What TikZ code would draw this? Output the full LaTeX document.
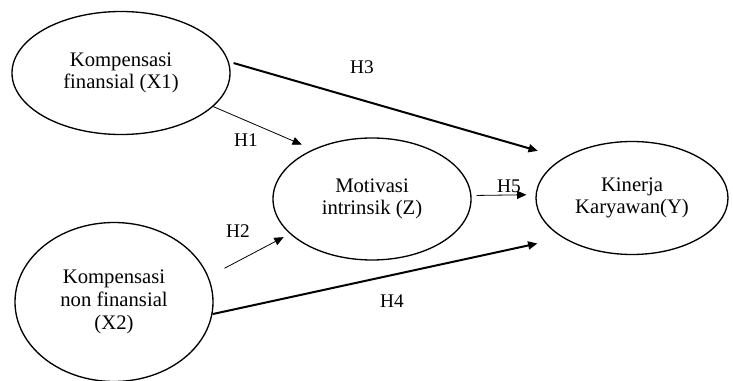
\documentclass[tikz,border=0pt]{standalone}
\usepackage{fontspec}
\setmainfont{Liberation Serif}
\usetikzlibrary{shapes.geometric,arrows.meta}
\begin{document}
\begin{tikzpicture}[x=0.75pt,y=-0.75pt,>={Triangle[length=7pt,width=6pt]}]
		\tikzstyle{latent}=[ellipse,draw=black,line width=1pt,inner sep=0pt,align=center,font=\fontsize{15.5}{17}\selectfont]
		\tikzstyle{path thick}=[->,draw=black,line width=1.5pt]
		\tikzstyle{path thin}=[->,draw=black,line width=0.6pt]
		\tikzstyle{hyp}=[font=\fontsize{14.5}{16}\selectfont,inner sep=0pt]
		
		\useasboundingbox (0,0) rectangle (733,381);
		
		% Draw the latent variables
		\node[latent,minimum width=218*0.75pt,minimum height=123*0.75pt] (X1) at (121,73) {Kompensasi\\finansial (X1)};
		\node[latent,minimum width=198*0.75pt,minimum height=159*0.75pt] (X2) at (114,302) {Kompensasi\\non finansial\\(X2)};
		\node[latent,minimum width=198*0.75pt,minimum height=122*0.75pt] (Z) at (372,199) {Motivasi\\intrinsik (Z)};
		\node[latent,minimum width=192*0.75pt,minimum height=113*0.75pt] (Y) at (632,198) {Kinerja\\Karyawan(Y)};
		
		% Draw the hypothesis paths
		\draw[path thin,shorten >=12*0.75pt] (X1.-20) -- (Z.140);
		\draw[path thin,shorten <=18*0.75pt,shorten >=7*0.75pt] (X2.15) -- (Z.203);
		\draw[path thick,shorten <=5*0.75pt,shorten >=26*0.75pt] (X1.6) -- (Y.150);
		\draw[path thick,shorten >=26*0.75pt] (X2.-7) -- (Y.-150);
		\draw[path thin,shorten <=5*0.75pt,shorten >=9*0.75pt] (Z.2) -- (Y.178);
		
		% Annotate the paths
		\node[hyp] (H1) at (246,140) {H1};
		\node[hyp] (H2) at (238,231) {H2};
		\node[hyp] (H3) at (362,67) {H3};
		\node[hyp] (H4) at (392,301) {H4};
		\node[hyp] (H5) at (509,186) {H5};
	\end{tikzpicture}
\end{document}
